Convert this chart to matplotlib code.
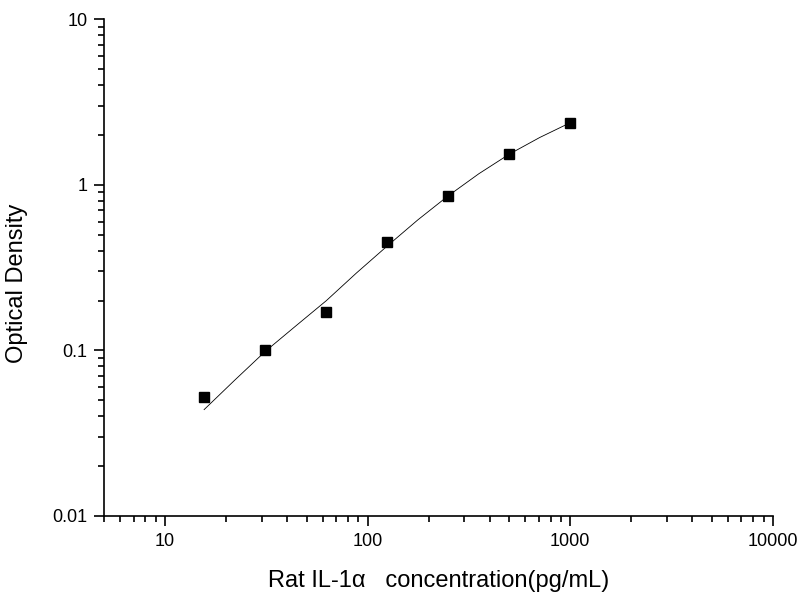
import matplotlib
matplotlib.use("Agg")
import matplotlib.pyplot as plt
from matplotlib.ticker import FixedLocator, LogLocator, NullFormatter, FixedFormatter

plt.rcParams['font.family'] = ['Liberation Sans', 'DejaVu Sans']

# Standard points
conc = [15.6, 31.25, 62.5, 125, 250, 500, 1000]
od = [0.052, 0.100, 0.170, 0.451, 0.858, 1.54, 2.37]

# Fitted curve
curve_x = [15.6, 22, 31.25, 44, 62.5, 88, 125, 177, 250, 354, 500, 707, 1000]
curve_y = [0.0439, 0.0658, 0.0986, 0.1398, 0.1995, 0.293, 0.427, 0.614, 0.858, 1.166, 1.53, 1.93, 2.37]

x_ticks = [10, 100, 1000, 10000]
x_ticklabels = ["10", "100", "1000", "10000"]
y_ticks = [0.01, 0.1, 1, 10]
y_ticklabels = ["0.01", "0.1", "1", "10"]

fig = plt.figure(figsize=(8, 6), dpi=100)
ax = fig.add_axes([0.13, 0.14, 0.836, 0.828])

ax.plot(curve_x, curve_y, color='black', linewidth=0.6)
ax.plot(conc, od, linestyle='none', marker='s', markersize=7, color='black')

ax.set_xscale('log')
ax.set_yscale('log')
ax.set_xlim(5, 10000)
ax.set_ylim(0.01, 10)

ax.xaxis.set_major_locator(FixedLocator(x_ticks))
ax.xaxis.set_major_formatter(FixedFormatter(x_ticklabels))
ax.yaxis.set_major_locator(FixedLocator(y_ticks))
ax.yaxis.set_major_formatter(FixedFormatter(y_ticklabels))
ax.xaxis.set_minor_locator(LogLocator(base=10, subs=range(2, 10)))
ax.yaxis.set_minor_locator(LogLocator(base=10, subs=range(2, 10)))
ax.xaxis.set_minor_formatter(NullFormatter())
ax.yaxis.set_minor_formatter(NullFormatter())

for s in ['top', 'right']:
    ax.spines[s].set_visible(False)
for s in ['left', 'bottom']:
    ax.spines[s].set_linewidth(1.2)

ax.tick_params(which='major', direction='out', length=7, width=1.2, labelsize=13, pad=5)
ax.tick_params(which='minor', direction='out', length=4, width=1.2)

ax.set_xlabel("Rat IL-1\u03b1   concentration(pg/mL)", fontsize=17, labelpad=15)
ax.set_ylabel("Optical Density", fontsize=17)
ax.yaxis.set_label_coords(-0.113, 0.469)

fig.savefig("out.png", dpi=100)
